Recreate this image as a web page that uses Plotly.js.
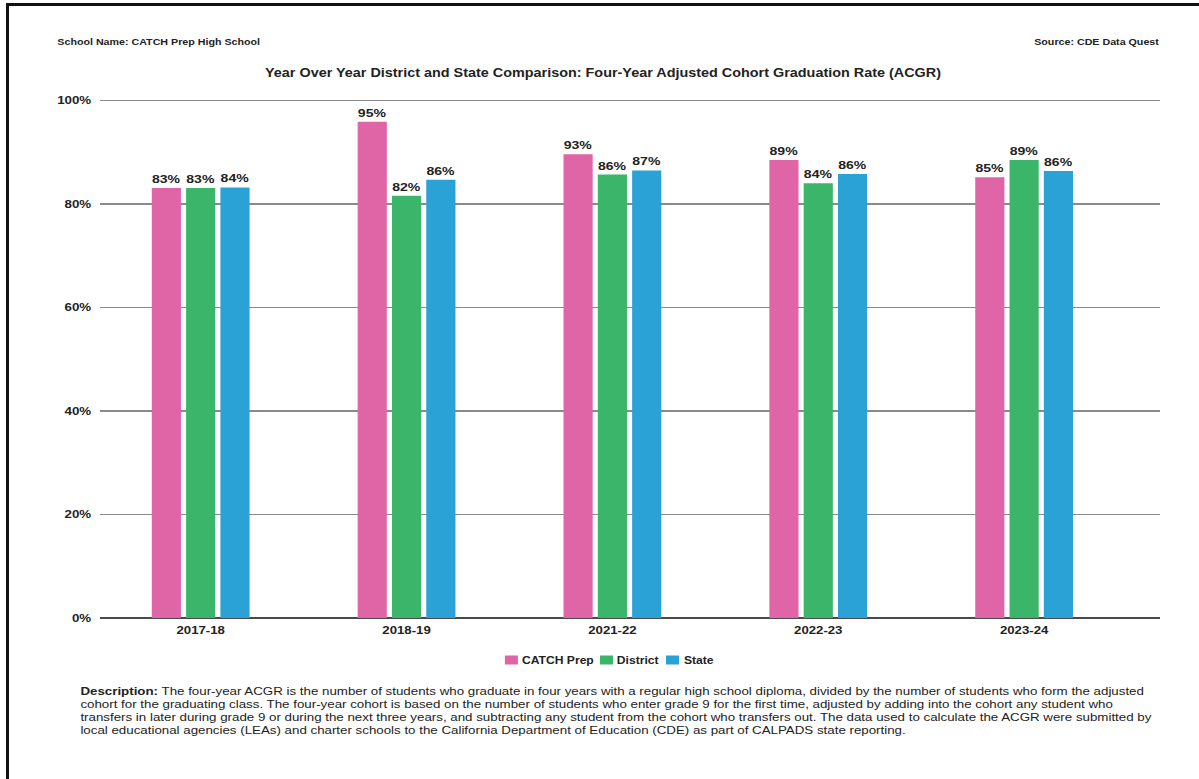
<!DOCTYPE html>
<html>
<head>
<meta charset="utf-8">
<script src="https://cdn.plot.ly/plotly-3.0.1.min.js"></script>
<style>
  html, body { margin: 0; padding: 0; overflow: hidden; background: #fff; width: 1199px; height: 779px; }
  #chart { position: absolute; left: 0; top: 0; width: 999px; height: 779px;
           transform: scaleX(1.2); transform-origin: 0 0; }
  #frame { position: absolute; left: 6px; top: 3px; width: 1400px; height: 1000px;
           border: 3px solid #111; pointer-events: none; box-sizing: border-box; }
</style>
</head>
<body>
<div id="chart"></div>
<div id="frame"></div>
<script>
// Categories (school years)
const years = ["2017-18", "2018-19", "2021-22", "2022-23", "2023-24"];
// Bar heights as drawn in the picture (percent)
const catchPrep = [83.1, 95.9, 89.6, 88.5, 85.2];
const district  = [83.1, 81.6, 85.7, 84.0, 88.5];
const state     = [83.2, 84.7, 86.5, 85.8, 86.4];
// Printed value labels
const catchPrepLabels = ["83%", "95%", "93%", "89%", "85%"];
const districtLabels  = ["83%", "82%", "86%", "84%", "89%"];
const stateLabels     = ["84%", "86%", "87%", "86%", "86%"];
const seriesNames = ["CATCH Prep", "District", "State"];
const seriesColors = ["#DF65A6", "#3BB56A", "#2AA2D6"];
// Y tick values
const yTickVals = [0, 20, 40, 60, 80, 100];

const descriptionLines = [
  "<b>Description:</b> The four-year ACGR is the number of students who graduate in four years with a regular high school diploma, divided by the number of students who form the adjusted",
  "cohort for the graduating class. The four-year cohort is based on the number of students who enter grade 9 for the first time, adjusted by adding into the cohort any student who",
  "transfers in later during grade 9 or during the next three years, and subtracting any student from the cohort who transfers out. The data used to calculate the ACGR were submitted by",
  "local educational agencies (LEAs) and charter schools to the California Department of Education (CDE) as part of CALPADS state reporting."
];

const FONT = "Liberation Sans, Arial, Helvetica, sans-serif";
const SX = 1.2;            // horizontal stretch of the whole picture
const W0 = 999;            // un-stretched width
const values = [catchPrep, district, state];
const labels = [catchPrepLabels, districtLabels, stateLabels];

const traces = seriesNames.map((name, i) => ({
  type: "bar",
  name: name,
  x: years,
  y: values[i],
  text: labels[i],
  texttemplate: "<b>%{text}</b>",
  textposition: "outside",
  textfont: { family: FONT, size: 11.7, color: "#222" },
  constraintext: "none",
  cliponaxis: false,
  marker: { color: seriesColors[i] },
  showlegend: false
}));

// plot area in screen pixels: x 100..1160, y 99..618
const Lp = 100, Rp = 1160, T = 99, B = 618;
const PW = Rp - Lp, PH = B - T;
const px = v => (v - Lp) / PW;     // screen x -> paper x
const py = v => (B - v) / PH;      // screen y -> paper y

const annotations = [
  { text: "<b>School Name: CATCH Prep High School</b>", xref: "paper", yref: "paper",
    x: px(56), y: py(42), xanchor: "left", yanchor: "middle", showarrow: false,
    font: { family: FONT, size: 8.9, color: "#222" } },
  { text: "<b>Source: CDE Data Quest</b>", xref: "paper", yref: "paper",
    x: px(1161), y: py(42), xanchor: "right", yanchor: "middle", showarrow: false,
    font: { family: FONT, size: 8.9, color: "#222" } }
];
descriptionLines.forEach((line, k) => {
  annotations.push({
    text: line, xref: "paper", yref: "paper",
    x: px(78), y: py(691 + 13 * k), xanchor: "left", yanchor: "middle",
    align: "left", showarrow: false,
    font: { family: FONT, size: 11.1, color: "#222" }
  });
});

// compact legend (square swatch + label), like the reference
const legendSwatchX = [505, 600, 666];
const shapes = [];
seriesNames.forEach((name, i) => {
  shapes.push({
    type: "rect", xref: "paper", yref: "paper", layer: "above",
    x0: px(legendSwatchX[i]), x1: px(legendSwatchX[i] + 13),
    y0: py(664.5), y1: py(655.5),
    fillcolor: seriesColors[i], line: { width: 0 }
  });
  annotations.push({
    text: "<b>" + name + "</b>", xref: "paper", yref: "paper",
    x: px(legendSwatchX[i] + 15), y: py(660), xanchor: "left", yanchor: "middle",
    showarrow: false, font: { family: FONT, size: 10.1, color: "#222" }
  });
});

const layout = {
  width: W0, height: 779,
  paper_bgcolor: "#fff", plot_bgcolor: "#fff",
  margin: { l: Lp / SX, r: W0 - Rp / SX, t: T, b: 779 - B, pad: 0 },
  font: { family: FONT, color: "#222" },
  title: {
    text: "<b>Year Over Year District and State Comparison: Four-Year Adjusted Cohort Graduation Rate (ACGR)</b>",
    x: (603 / SX) / W0, xanchor: "center", xref: "container",
    y: 1 - 73 / 779, yanchor: "middle", yref: "container",
    font: { family: FONT, size: 12, color: "#222" }
  },
  barmode: "group",
  bargap: 0.5,
  bargroupgap: 0.15,
  showlegend: false,
  xaxis: {
    type: "category",
    range: [-0.491, 4.662],
    showgrid: false, showline: false, zeroline: false,
    ticks: "", tickfont: { family: FONT, size: 11, color: "#222" },
    tickprefix: "<b>", ticksuffix: "</b>",
    ticklabelstandoff: 4,
    fixedrange: true
  },
  yaxis: {
    range: [0, 100.3],
    tickmode: "array",
    tickvals: yTickVals,
    ticktext: yTickVals.map(v => "<b>" + v + "%</b>"),
    tickfont: { family: FONT, size: 11.1, color: "#222" },
    showgrid: true, gridcolor: "#8a8a8a", gridwidth: 1.5,
    zeroline: true, zerolinecolor: "#4a4a4a", zerolinewidth: 2.5,
    showline: false, ticks: "", ticklabelstandoff: 6,
    fixedrange: true
  },
  shapes: shapes,
  annotations: annotations
};

Plotly.newPlot("chart", traces, layout, { displayModeBar: false, staticPlot: true });
</script>
</body>
</html>
